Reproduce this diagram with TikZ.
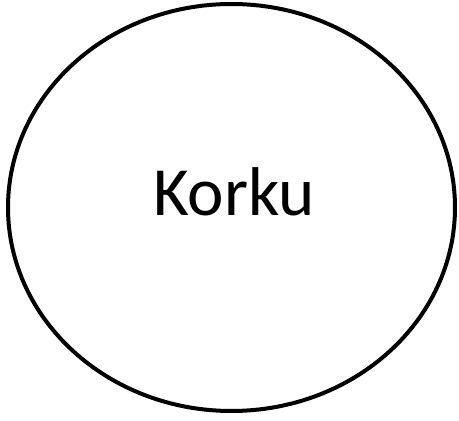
\documentclass[tikz,border=0pt]{standalone}
\usepackage{fontspec}
\setmainfont{Carlito}
\begin{document}
\begin{tikzpicture}[x=1pt,y=1pt]
\tikzset{outline/.style={draw=black,line width=4pt}}
\useasboundingbox (0,0) rectangle (459,421);
\draw[outline] (231.5,213.5) ellipse [x radius=223.5, y radius=203.5];
\node[anchor=base,inner sep=0pt,font=\fontsize{69}{72}\selectfont] (label) at (234,205) {Korku};
\end{tikzpicture}
\end{document}
